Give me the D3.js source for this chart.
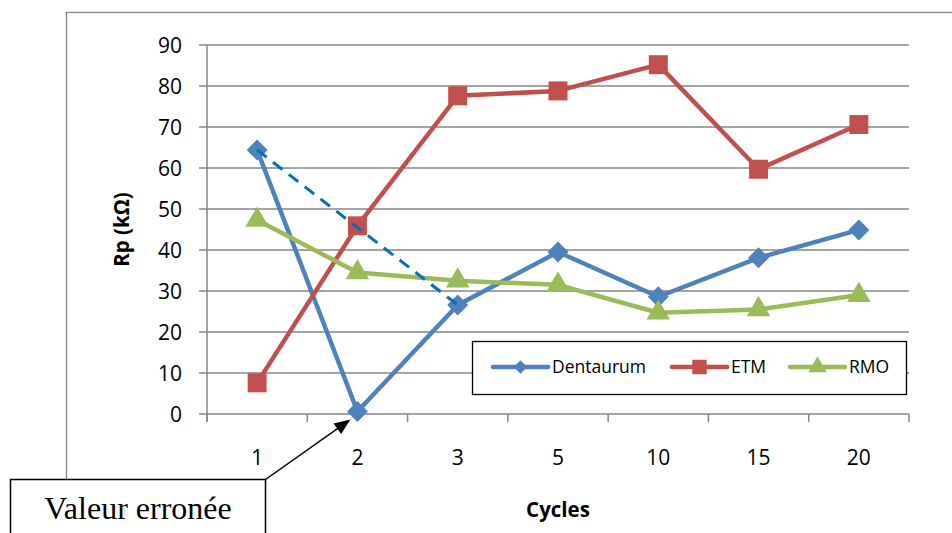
<!DOCTYPE html>
<html><head><meta charset="utf-8">
<script src="https://cdn.jsdelivr.net/npm/d3@7/dist/d3.min.js"></script>
<style>body{margin:0;background:#fff;}svg{display:block;}</style>
</head><body><svg id="c" width="952" height="533"></svg>
<script>
const categories = ["1","2","3","5","10","15","20"];
const dentaurum = [64.4, 0.6, 26.6, 39.5, 28.6, 38.1, 44.9];
const etm = [7.6, 45.9, 77.6, 78.8, 85.2, 59.7, 70.6];
const rmo = [47.3, 34.5, 32.5, 31.5, 24.7, 25.5, 29.0];
const yTicks = [0,10,20,30,40,50,60,70,80,90];
const seriesNames = ["Dentaurum","ETM","RMO"];
const correction = [0, 2]; // dashed correction line between category indices
const calloutText = "Valeur erronée";

(function(){
const svg = d3.select("#c");
const pL = 207, pR = 909, pT = 45, pB = 414;
const x = d3.scaleBand().domain(categories).range([pL, pR]);
const y = d3.scaleLinear().domain([0, 90]).range([pB, pT]);
const cx = c => x(c) + x.bandwidth()/2;
const grid = "#868686";
const font = "'Open Sans', sans-serif";

// outer chart border
svg.append("rect").attr("x", 66.5).attr("y", 12.5).attr("width", 1000).attr("height", 1000)
  .attr("fill", "none").attr("stroke", grid).attr("stroke-width", 1.3);

// gridlines
svg.append("g").selectAll("line").data(yTicks).join("line")
  .attr("x1", pL - 8).attr("x2", pR).attr("y1", d => y(d)).attr("y2", d => y(d))
  .attr("stroke", grid).attr("stroke-width", 1.5);
// y axis line
svg.append("line").attr("x1", pL).attr("x2", pL).attr("y1", pT).attr("y2", pB + 8)
  .attr("stroke", grid).attr("stroke-width", 1.5);
// x ticks
const xt = d3.range(categories.length + 1).map(i => pL + i * x.step());
svg.append("g").selectAll("line").data(xt).join("line")
  .attr("x1", d => d).attr("x2", d => d).attr("y1", pB).attr("y2", pB + 8)
  .attr("stroke", grid).attr("stroke-width", 1.5);

// y tick labels
svg.append("g").selectAll("text").data(yTicks).join("text")
  .attr("x", 182).attr("y", d => y(d)).attr("dy", "0.36em").attr("text-anchor", "end")
  .attr("font-family", font).attr("font-size", 21).attr("fill", "#000").text(d => d);
// x tick labels
svg.append("g").selectAll("text").data(categories).join("text")
  .attr("x", d => cx(d)).attr("y", 457).attr("dy", "0.36em").attr("text-anchor", "middle")
  .attr("font-family", font).attr("font-size", 21).attr("fill", "#000").text(d => d);

// axis titles
svg.append("text").attr("transform", `translate(122,${(pT+pB)/2}) rotate(-90)`)
  .attr("text-anchor", "middle").attr("dy", "0.36em").attr("font-family", font)
  .attr("font-weight", "bold").attr("font-size", 20.5).text("Rp (kΩ)");
svg.append("text").attr("x", 558).attr("y", 510).attr("dy", "0.36em").attr("text-anchor", "middle")
  .attr("font-family", font).attr("font-weight", "bold").attr("font-size", 20.5).text("Cycles");

const diamond = { draw(ctx, size) { const r = Math.sqrt(size / 2);
  ctx.moveTo(0, -r); ctx.lineTo(r, 0); ctx.lineTo(0, r); ctx.lineTo(-r, 0); ctx.closePath(); } };
const colors = ["#4F81BD", "#C0504D", "#9BBB59"];
const symbols = [diamond, d3.symbolSquare, d3.symbolTriangle];
const sizes = [220, 360, 240];
const data = [dentaurum, etm, rmo];
const line = d3.line().x((d, i) => cx(categories[i])).y(d => y(d));

[0, 1, 2].forEach(s => {
  svg.append("path").attr("d", line(data[s])).attr("fill", "none")
    .attr("stroke", colors[s]).attr("stroke-width", 4.5).attr("stroke-linejoin", "round");
  svg.append("g").selectAll("path").data(data[s]).join("path")
    .attr("transform", (d, i) => `translate(${cx(categories[i])},${y(d)})`)
    .attr("d", d3.symbol().type(symbols[s]).size(sizes[s])).attr("fill", colors[s]);
});

// dashed correction line
svg.append("line")
  .attr("x1", cx(categories[correction[0]])).attr("y1", y(dentaurum[correction[0]]))
  .attr("x2", cx(categories[correction[1]])).attr("y2", y(dentaurum[correction[1]]))
  .attr("stroke", "#0070C0").attr("stroke-width", 3).attr("stroke-dasharray", "12,8");

// legend
const lg = svg.append("g");
lg.append("rect").attr("x", 472.5).attr("y", 341.5).attr("width", 434).attr("height", 53)
  .attr("fill", "#fff").attr("stroke", "#000").attr("stroke-width", 1.3);
const lx = [493, 672, 790];
const lsizes = [90, 210, 150];
seriesNames.forEach((n, i) => {
  lg.append("line").attr("x1", lx[i]).attr("x2", lx[i] + 55).attr("y1", 367).attr("y2", 367)
    .attr("stroke", colors[i]).attr("stroke-width", 4.5).attr("stroke-linecap", "round");
  lg.append("path").attr("transform", `translate(${lx[i] + 27.5},367)`)
    .attr("d", d3.symbol().type(symbols[i]).size(lsizes[i])).attr("fill", colors[i]);
  lg.append("text").attr("x", lx[i] + 59).attr("y", 367).attr("dy", "0.36em")
    .attr("font-family", font).attr("font-size", 17.5).text(n);
});

// callout
svg.append("rect").attr("x", 10.5).attr("y", 479.5).attr("width", 255).attr("height", 80)
  .attr("fill", "#fff").attr("stroke", "#000").attr("stroke-width", 1.5);
svg.append("text").attr("x", 138).attr("y", 519).attr("text-anchor", "middle")
  .attr("font-family", "'Liberation Serif', 'Times New Roman', serif").attr("font-size", 32)
  .text(calloutText);
const sx = 265.5, sy = 479.5;
const ax = cx(categories[1]) - 7, ay = y(dentaurum[1]) + 8;
const ang = Math.atan2(ay - sy, ax - sx);
const hl = 16, hw = 6.5;
svg.append("line").attr("x1", sx).attr("y1", sy)
  .attr("x2", ax - hl * 0.8 * Math.cos(ang)).attr("y2", ay - hl * 0.8 * Math.sin(ang))
  .attr("stroke", "#000").attr("stroke-width", 1.5);
const p = [[ax, ay],
  [ax - hl*Math.cos(ang) + hw*Math.sin(ang), ay - hl*Math.sin(ang) - hw*Math.cos(ang)],
  [ax - hl*Math.cos(ang) - hw*Math.sin(ang), ay - hl*Math.sin(ang) + hw*Math.cos(ang)]];
svg.append("path").attr("d", "M" + p.join("L") + "Z").attr("fill", "#000");
})();
</script></body></html>
